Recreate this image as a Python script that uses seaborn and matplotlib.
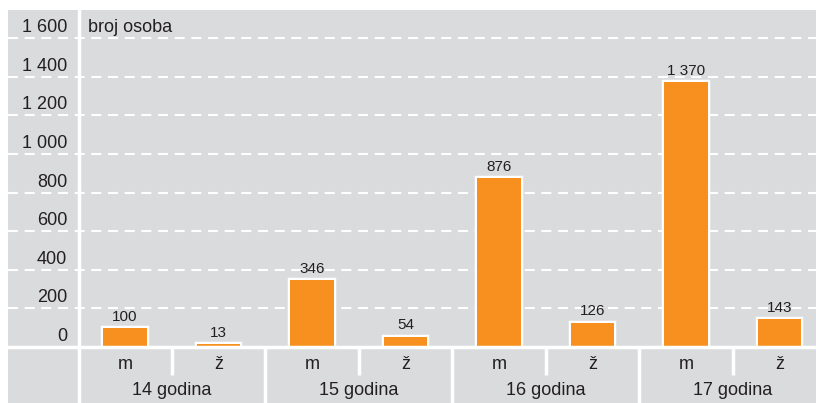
import numpy as np
import pandas as pd
import matplotlib.pyplot as plt
import seaborn as sns
from matplotlib.lines import Line2D

# data
godine = ["14 godina", "15 godina", "16 godina", "17 godina"]
spol = ["m", "ž"]
broj_m = [100, 346, 876, 1370]
broj_z = [13, 54, 126, 143]
y_ticks = [0, 200, 400, 600, 800, 1000, 1200, 1400, 1600]

rows = []
for g, m, z in zip(godine, broj_m, broj_z):
    rows.append({"kat": g + " m", "godina": g, "spol": "m", "broj": m})
    rows.append({"kat": g + " ž", "godina": g, "spol": "ž", "broj": z})
df = pd.DataFrame(rows)

sns.set_style("white")
plt.rcParams["font.family"] = ["Liberation Sans Narrow", "Liberation Sans", "DejaVu Sans"]

GREY = "#dadbdd"
ORANGE = "#f7901e"
TXT = "#231f20"
W, H = 816, 403
FS = 13

fig = plt.figure(figsize=(W / 100, H / 100), dpi=100)
fig.patch.set_facecolor("white")
ax = fig.add_axes([8 / W, (H - 347) / H, (W - 8) / W, (347 - 10) / H])
axb = fig.add_axes([8 / W, 0, (W - 8) / W, (H - 347) / H], sharex=ax)

for a in (ax, axb):
    a.set_facecolor(GREY)
    for s in a.spines.values():
        s.set_visible(False)

# gridlines
for v in y_ticks[1:]:
    ax.axhline(v, color="white", lw=1.5, ls=(0, (4.8, 3.2)), zorder=0.5)

# white outline drawn under the orange fill
sns.barplot(data=df, x="kat", y="broj", color="white", saturation=1,
            edgecolor="white", linewidth=3.2, width=0.47, ax=ax, zorder=2)
sns.barplot(data=df, x="kat", y="broj", color=ORANGE, saturation=1,
            linewidth=0, width=0.47, ax=ax, zorder=3)
ax.set_xlabel("")
ax.set_ylabel("")
for a in (ax, axb):
    a.tick_params(left=False, bottom=False, labelleft=False, labelbottom=False)

labels = [f"{v:,}".replace(",", " ") for v in df["broj"]]
ax.bar_label(ax.containers[1], labels=labels, padding=3, fontsize=11, color=TXT)

x0 = (8 - 125) / 93.5
x1 = (816 - 125) / 93.5
ax.set_xlim(x0, x1)
ax.set_ylim(0, 1745)
ax.grid(False)

# y tick labels
lx = (67 - 8) / (W - 8)
for v in y_ticks:
    ax.annotate(f"{v:,}".replace(",", " "), xy=(lx, v), xycoords=("axes fraction", "data"),
                xytext=(0, 4.3), textcoords="offset points", ha="right", va="baseline",
                fontsize=FS, color=TXT)
ax.annotate("broj osoba", xy=((88 - 8) / (W - 8), 1600), xycoords=("axes fraction", "data"),
            xytext=(0, 4.3), textcoords="offset points", ha="left", va="baseline",
            fontsize=FS, color=TXT)

# bottom category labels
axb.set_ylim(0, 1)
for i, row in df.iterrows():
    axb.text(i, 0.68, row["spol"], ha="center", va="center", fontsize=FS, color=TXT)
for j, g in enumerate(godine):
    axb.text(2 * j + 0.5, 0.23, g, ha="center", va="center", fontsize=FS, color=TXT)
axb.vlines([0.5, 2.5, 4.5, 6.5], 0.5, 1, color="white", lw=2.5)
axb.vlines([1.5, 3.5, 5.5], 0, 1, color="white", lw=2.5)
axb.set_xlim(x0, x1)

# white separator lines
fig.add_artist(Line2D([78.5 / W, 78.5 / W], [0, (H - 10) / H], color="white", lw=2.5))
fig.add_artist(Line2D([8 / W, 1], [(H - 347) / H, (H - 347) / H], color="white", lw=2.5))

fig.savefig("out.png", dpi=100)
